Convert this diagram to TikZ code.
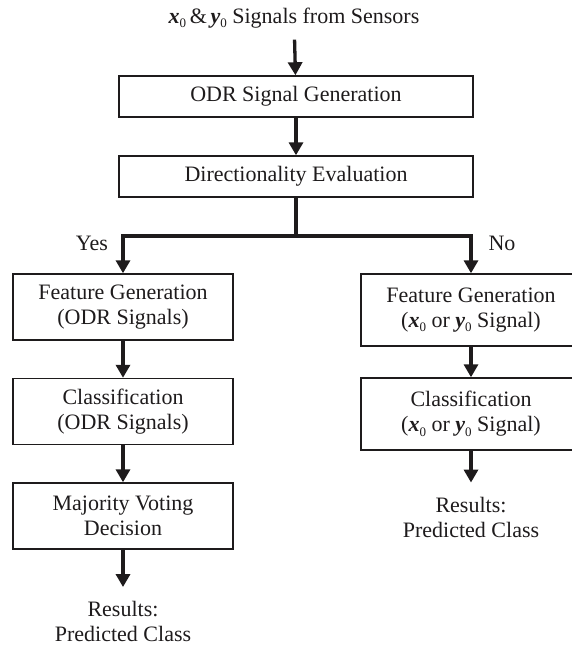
\documentclass[tikz,border=0pt]{standalone}
\usepackage{fontspec}
\setmainfont{Liberation Serif}
\usetikzlibrary{arrows.meta}
\definecolor{ink}{RGB}{30,27,28}
\newcommand{\subzero}{\raisebox{-0.45ex}{\fontsize{13}{13}\selectfont 0}}
\newcommand{\xzero}{\textbf{\textit{x}}\subzero}
\newcommand{\yzero}{\textbf{\textit{y}}\subzero}

\begin{document}
\begin{tikzpicture}[x=1pt,y=1pt,
  every node/.style={font=\fontsize{22}{25}\selectfont, text=ink, align=center},
  widebox/.style={draw=ink, line width=1.4pt, minimum width=354pt, minimum height=41pt, inner sep=0pt},
  leftbox/.style={draw=ink, line width=1.4pt, minimum width=220pt, minimum height=66pt, inner sep=0pt},
  rightbox/.style={leftbox, minimum height=72pt},
  result/.style={inner sep=0pt},
  link/.style={draw=ink, line width=3.3pt},
  arr/.style={link, -{Triangle[width=14pt,length=13pt]}}]
\useasboundingbox (0,0) rectangle (571,645);

% top
\node (src) at (294,627) {\xzero\,\&\,\yzero\ Signals from Sensors};
\node[widebox] (odr) at (296,548.5) {ODR Signal Generation};
\node[widebox] (dir) at (296,468.5) {Directionality Evaluation};
\coordinate (split) at (296,409);
\node (yes) at (92,402) {Yes};
\node (no) at (502,402) {No};

% left branch
\node[leftbox] (featL) at (123,338) {Feature Generation\\(ODR Signals)};
\node[leftbox] (clsL) at (123,233.5) {Classification\\(ODR Signals)};
\node[leftbox] (vote) at (123,129) {Majority Voting\\Decision};
\node[result] (resL) at (123,23.5) {Results:\\Predicted Class};

% right branch
\node[rightbox] (featR) at (471,335) {Feature Generation\\(\xzero\ or \yzero\ Signal)};
\node[rightbox] (clsR) at (471,231) {Classification\\(\xzero\ or \yzero\ Signal)};
\node[result] (resR) at (471,128) {Results:\\Predicted Class};

\draw[arr, shorten <=8pt] (src) -- (odr);
\draw[arr] (odr) -- (dir);
\draw[link] (dir) -- (split);
\draw[arr] (split) -| (featL);
\draw[arr] (split) -| (featR);

\draw[arr] (featL) -- (clsL);
\draw[arr] (clsL) -- (vote);
\draw[arr, shorten >=14pt] (vote) -- (resL);

\draw[arr] (featR) -- (clsR);
\draw[arr, shorten >=14pt] (clsR) -- (resR);
\end{tikzpicture}
\end{document}
